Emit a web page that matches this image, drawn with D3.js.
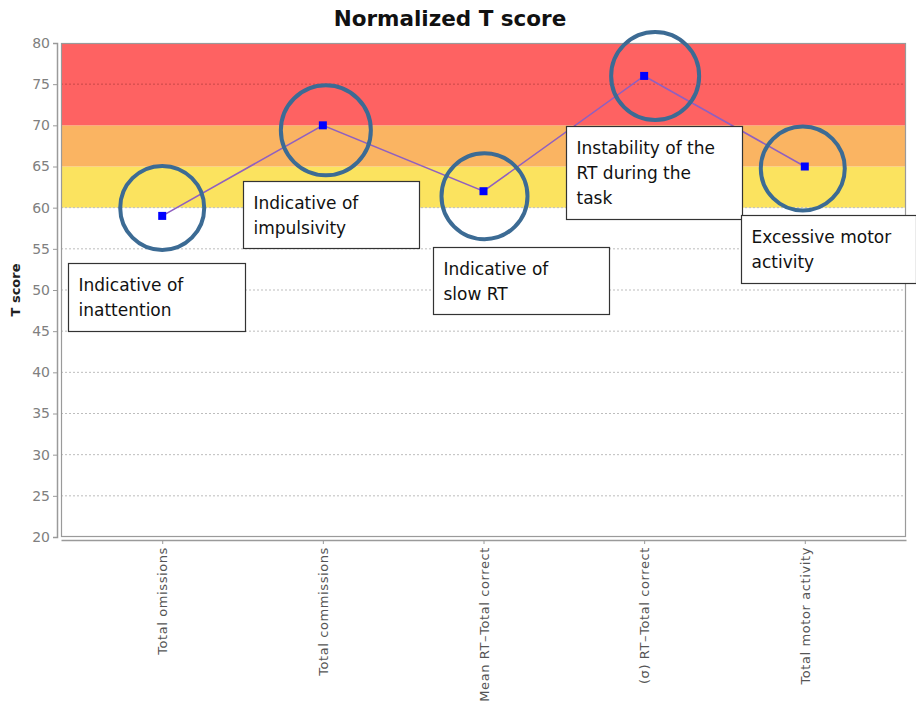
<!DOCTYPE html>
<html>
<head>
<meta charset="utf-8">
<script src="https://cdn.jsdelivr.net/npm/d3@7/dist/d3.min.js"></script>
<style>
  html, body { margin: 0; padding: 0; background: #fff; }
  svg { display: block; }
</style>
</head>
<body>
<svg id="chart" width="916" height="706"></svg>
<script>
// ---- data ----
const categories = ["Total omissions", "Total commissions", "Mean RT\u2013Total correct", "(\u03c3) RT\u2013Total correct", "Total motor activity"];
const tScores = [59, 70, 62, 76, 65];
const yTicks = [20, 25, 30, 35, 40, 45, 50, 55, 60, 65, 70, 75, 80];
const bandLows = [60, 65, 70];
const bandHighs = [65, 70, 80];
const annotationLines = [
  ["Indicative of", "inattention"],
  ["Indicative of", "impulsivity"],
  ["Indicative of", "slow RT"],
  ["Instability of the", "RT during the", "task"],
  ["Excessive motor", "activity"]
];
const titleText = "Normalized T score";
const yLabel = "T score";

// ---- layout (not data) ----
const bandColors = ["#fbe35f", "#fab462", "#fe6262"];
const boxLayout = [ // box offsets relative to point (dx, dy, width, height)
  { dx: -94, dy: 47,  w: 177, h: 68 },
  { dx: -80, dy: 56,  w: 176, h: 67 },
  { dx: -51, dy: 56,  w: 176, h: 67 },
  { dx: -78, dy: 50,  w: 176, h: 93 },
  { dx: -64, dy: 48,  w: 175, h: 68 }
];
const circleOffset = [
  { dx: 0, dy: -8, r: 42 },
  { dx: 3, dy: 5, r: 45 },
  { dx: 1, dy: 5, r: 43 },
  { dx: 11, dy: 0, r: 44 },
  { dx: -2, dy: 2, r: 42 }
];

const svg = d3.select("#chart");
const plot = { left: 61, right: 906, top: 43, bottom: 537 };

const x = d3.scalePoint().domain(categories).range([plot.left, plot.right]).padding(0.63);
const y = d3.scaleLinear().domain([20, 80]).range([plot.bottom, plot.top]);

// title
svg.append("text")
  .attr("x", 450).attr("y", 26)
  .attr("text-anchor", "middle")
  .attr("font-family", "DejaVu Sans, Verdana, sans-serif")
  .attr("font-weight", "bold")
  .attr("font-size", 21.5)
  .attr("fill", "#111")
  .text(titleText);

// plot background
svg.append("rect")
  .attr("x", plot.left).attr("y", plot.top)
  .attr("width", plot.right - plot.left).attr("height", plot.bottom - plot.top)
  .attr("fill", "#fff");

// bands
svg.append("g").selectAll("rect")
  .data(bandLows)
  .join("rect")
  .attr("x", plot.left)
  .attr("width", plot.right - plot.left)
  .attr("y", (d, i) => y(bandHighs[i]))
  .attr("height", (d, i) => y(d) - y(bandHighs[i]))
  .attr("fill", (d, i) => bandColors[i]);

// gridlines
svg.append("g").selectAll("line")
  .data(yTicks.filter(t => t > 20 && t < 80))
  .join("line")
  .attr("x1", plot.left).attr("x2", plot.right)
  .attr("y1", d => y(d)).attr("y2", d => y(d))
  .attr("stroke", d => d > 70 ? "#c84848" : (d > 60 ? "none" : "#bdbdbd"))
  .attr("stroke-width", 1)
  .attr("stroke-dasharray", "2,2");

// plot border
svg.append("rect")
  .attr("x", plot.left + 0.5).attr("y", plot.top + 0.5)
  .attr("width", plot.right - plot.left - 1).attr("height", plot.bottom - plot.top - 1)
  .attr("fill", "none")
  .attr("stroke", "#9a9a9a")
  .attr("stroke-width", 1.2);

// y axis
const yAxis = svg.append("g")
  .attr("transform", `translate(${plot.left - 4},0)`)
  .call(d3.axisLeft(y).tickValues(yTicks).tickSize(4).tickPadding(3));
yAxis.select(".domain").attr("stroke", "#9a9a9a").attr("stroke-width", 1.5);
yAxis.selectAll(".tick line").attr("stroke", "#9a9a9a");
yAxis.selectAll(".tick text")
  .attr("font-family", "DejaVu Sans, Verdana, sans-serif")
  .attr("font-size", 14)
  .attr("fill", "#808080");

// x axis
const xAxis = svg.append("g")
  .attr("transform", `translate(0,${plot.bottom + 3})`)
  .call(d3.axisBottom(x).tickSize(4).tickSizeOuter(0));
xAxis.select(".domain").attr("stroke", "#9a9a9a").attr("stroke-width", 1.5);
xAxis.selectAll(".tick line").attr("stroke", "#9a9a9a");
xAxis.selectAll(".tick text")
  .attr("font-family", "DejaVu Sans, Verdana, sans-serif")
  .attr("font-size", 13)
  .attr("letter-spacing", "0.6px")
  .attr("fill", "#555")
  .attr("text-anchor", "end")
  .attr("dy", "0.35em")
  .attr("transform", "translate(0,7) rotate(-90)")
  .attr("x", 0).attr("y", 0);

// y label
svg.append("text")
  .attr("transform", `translate(20,${(plot.top + plot.bottom) / 2}) rotate(-90)`)
  .attr("text-anchor", "middle")
  .attr("font-family", "DejaVu Sans, Verdana, sans-serif")
  .attr("font-weight", "bold")
  .attr("font-size", 13)
  .attr("fill", "#222")
  .text(yLabel);

// line
svg.append("path")
  .datum(tScores)
  .attr("d", d3.line().x((d, i) => x(categories[i])).y(d => y(d)))
  .attr("fill", "none")
  .attr("stroke", "#9060c0")
  .attr("stroke-width", 1.6);

// markers
svg.append("g").selectAll("rect")
  .data(tScores)
  .join("rect")
  .attr("x", (d, i) => x(categories[i]) - 4)
  .attr("y", d => y(d) - 4)
  .attr("width", 8).attr("height", 8)
  .attr("fill", "#0000ff");

// circles
svg.append("g").selectAll("circle")
  .data(tScores)
  .join("circle")
  .attr("cx", (d, i) => x(categories[i]) + circleOffset[i].dx)
  .attr("cy", (d, i) => y(d) + circleOffset[i].dy)
  .attr("r", (d, i) => circleOffset[i].r)
  .attr("fill", "none")
  .attr("stroke", "#3c6b94")
  .attr("stroke-width", 4);

// annotation boxes
const ann = svg.append("g").selectAll("g")
  .data(tScores)
  .join("g")
  .attr("transform", (d, i) => `translate(${Math.round(x(categories[i]) + boxLayout[i].dx) + 0.5},${Math.round(y(d) + boxLayout[i].dy) + 0.5})`);
ann.append("rect")
  .attr("width", (d, i) => boxLayout[i].w)
  .attr("height", (d, i) => boxLayout[i].h)
  .attr("fill", "#fff")
  .attr("stroke", "#333")
  .attr("stroke-width", 1.2);
ann.each(function (d, i) {
  const t = d3.select(this).append("text")
    .attr("font-family", "DejaVu Sans, Verdana, sans-serif")
    .attr("font-size", 17)
    .attr("fill", "#111");
  annotationLines[i].forEach((ln, k) => {
    t.append("tspan").attr("x", 10).attr("y", 27 + k * 25).text(ln);
  });
});
</script>
</body>
</html>
